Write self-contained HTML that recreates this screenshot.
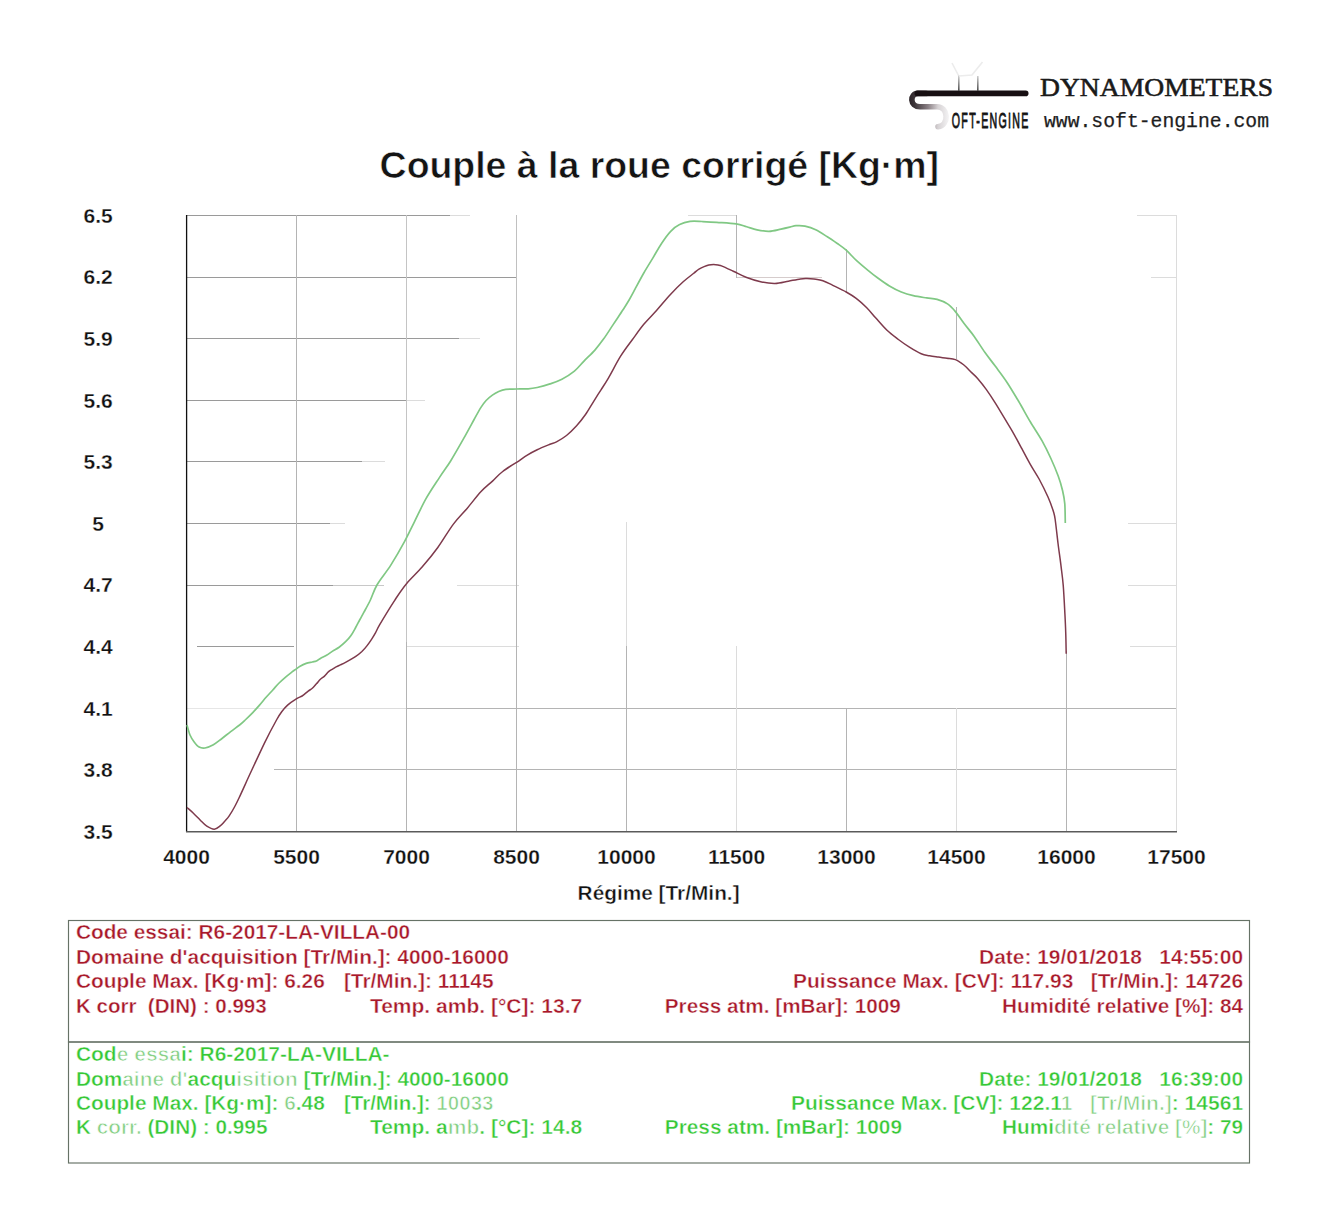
<!DOCTYPE html>
<html><head><meta charset="utf-8"><style>
html,body{margin:0;padding:0;background:#fff;width:1342px;height:1228px;overflow:hidden}
svg{display:block}
text{font-family:"Liberation Sans",sans-serif}
.b{font-weight:bold}
</style></head><body>
<svg width="1342" height="1228" viewBox="0 0 1342 1228">
<rect width="1342" height="1228" fill="#fff"/>
<!-- logo -->
<g id="logo">
  <defs>
    <linearGradient id="sg" gradientUnits="userSpaceOnUse" x1="908" y1="0" x2="948" y2="0">
      <stop offset="0" stop-color="#2a2226"/>
      <stop offset="0.15" stop-color="#3a3236"/>
      <stop offset="0.5" stop-color="#8a8085"/>
      <stop offset="0.75" stop-color="#d6d2d4"/>
      <stop offset="1" stop-color="#f2f1f2"/>
    </linearGradient>
    <linearGradient id="tg" gradientUnits="userSpaceOnUse" x1="0" y1="74" x2="0" y2="91">
      <stop offset="0" stop-color="#e0e0e0"/>
      <stop offset="1" stop-color="#4a4a4a"/>
    </linearGradient>
  </defs>
  <path d="M926,93.4 L918,93.4 C909.5,93.4 909.5,106.8 920,106.8 L937,106.8 C948.5,106.8 949.5,125 938,126.8" fill="none" stroke="url(#sg)" stroke-width="5.6" stroke-linecap="round"/>
  <rect x="914.5" y="90.6" width="114" height="5.6" rx="2.8" fill="#170f12"/>
  <path d="M958.8,75 L958.8,91 M977.8,76 L977.8,91" stroke="url(#tg)" stroke-width="1.6"/>
  <path d="M952,63 L958.5,75.5 M959,76 L972,75 L982.5,62" stroke="#ececec" stroke-width="1.6" fill="none"/>
  <text x="0" y="0" font-size="22.6" fill="#141414" stroke="#141414" stroke-width="0.9" transform="translate(951.8,127.9) scale(0.47,1)" textLength="163" lengthAdjust="spacing">OFT-ENGINE</text>
  <text x="1040" y="95.8" font-size="25.6" fill="#1a1a1a" stroke="#1a1a1a" stroke-width="0.55" style="font-family:'Liberation Serif',serif" textLength="233" lengthAdjust="spacingAndGlyphs">DYNAMOMETERS</text>
  <text x="1044" y="126.5" style="font-family:'Liberation Mono',monospace" font-size="19.6" fill="#1e1e1e" stroke="#1e1e1e" stroke-width="0.25" textLength="225" lengthAdjust="spacingAndGlyphs">www.soft-engine.com</text>
</g>
<!-- title -->
<text x="379.6" y="177.6" class="b" font-size="36" fill="#141414" stroke="#fff" stroke-width="0.6" textLength="559.5" lengthAdjust="spacingAndGlyphs">Couple à la roue corrigé [Kg·m]</text>
<!-- grid -->
<g stroke-width="1" fill="none">
<line x1="187" y1="215.5" x2="450" y2="215.5" stroke="#9a9a9a"/>
<line x1="450" y1="215.5" x2="470" y2="215.5" stroke="#dcdcdc"/>
<line x1="688" y1="215.5" x2="737" y2="215.5" stroke="#dcdcdc"/>
<line x1="1137" y1="215.5" x2="1176" y2="215.5" stroke="#dcdcdc"/>
<line x1="187" y1="277.5" x2="516" y2="277.5" stroke="#9a9a9a"/>
<line x1="736" y1="277.5" x2="822" y2="277.5" stroke="#d6cccc"/>
<line x1="1151" y1="277.5" x2="1176" y2="277.5" stroke="#dcdcdc"/>
<line x1="187" y1="338.5" x2="459" y2="338.5" stroke="#9a9a9a"/>
<line x1="459" y1="338.5" x2="480" y2="338.5" stroke="#dcdcdc"/>
<line x1="187" y1="400.5" x2="406" y2="400.5" stroke="#9a9a9a"/>
<line x1="406" y1="400.5" x2="425" y2="400.5" stroke="#dcdcdc"/>
<line x1="187" y1="461.5" x2="362" y2="461.5" stroke="#9a9a9a"/>
<line x1="362" y1="461.5" x2="385" y2="461.5" stroke="#dcdcdc"/>
<line x1="187" y1="523.5" x2="330" y2="523.5" stroke="#9a9a9a"/>
<line x1="330" y1="523.5" x2="345" y2="523.5" stroke="#dcdcdc"/>
<line x1="1128" y1="523.5" x2="1176" y2="523.5" stroke="#dcdcdc"/>
<line x1="187" y1="585.5" x2="333" y2="585.5" stroke="#9a9a9a"/>
<line x1="333" y1="585.5" x2="384" y2="585.5" stroke="#c8c8c8"/>
<line x1="457" y1="585.5" x2="519" y2="585.5" stroke="#dcdcdc"/>
<line x1="1128" y1="585.5" x2="1176" y2="585.5" stroke="#dcdcdc"/>
<line x1="197" y1="646.5" x2="294" y2="646.5" stroke="#9a9a9a"/>
<line x1="406" y1="646.5" x2="519" y2="646.5" stroke="#dcdcdc"/>
<line x1="1130" y1="646.5" x2="1176" y2="646.5" stroke="#dcdcdc"/>
<line x1="187" y1="708.5" x2="293" y2="708.5" stroke="#e6e6e6"/>
<line x1="293" y1="708.5" x2="406" y2="708.5" stroke="#dcdcdc"/>
<line x1="406" y1="708.5" x2="1176" y2="708.5" stroke="#b4b4b4"/>
<line x1="274" y1="769.5" x2="1176" y2="769.5" stroke="#b4b4b4"/>
<line x1="296.5" y1="215" x2="296.5" y2="831" stroke="#b4b4b4"/>
<line x1="406.5" y1="215" x2="406.5" y2="642" stroke="#c4c4c4"/>
<line x1="406.5" y1="642" x2="406.5" y2="831" stroke="#b4b4b4"/>
<line x1="516.5" y1="215" x2="516.5" y2="383" stroke="#c0c0c0"/>
<line x1="516.5" y1="383" x2="516.5" y2="831" stroke="#b4b4b4"/>
<line x1="626.5" y1="522" x2="626.5" y2="646" stroke="#dcdcdc"/>
<line x1="626.5" y1="646" x2="626.5" y2="831" stroke="#b4b4b4"/>
<line x1="736.5" y1="215" x2="736.5" y2="278" stroke="#b4b4b4"/>
<line x1="736.5" y1="646" x2="736.5" y2="831" stroke="#dcdcdc"/>
<line x1="846.5" y1="249" x2="846.5" y2="293" stroke="#b4b4b4"/>
<line x1="846.5" y1="708" x2="846.5" y2="831" stroke="#b4b4b4"/>
<line x1="956.5" y1="307" x2="956.5" y2="359" stroke="#b4b4b4"/>
<line x1="956.5" y1="708" x2="956.5" y2="831" stroke="#dcdcdc"/>
<line x1="1066.5" y1="651" x2="1066.5" y2="831" stroke="#b4b4b4"/>
<line x1="1176.5" y1="215" x2="1176.5" y2="831" stroke="#dcdcdc"/>
</g>
<!-- axes -->
<line x1="186.6" y1="215" x2="186.6" y2="832" stroke="#101010" stroke-width="1.3"/>
<line x1="186" y1="831.8" x2="1177" y2="831.8" stroke="#5a5a5a" stroke-width="1.6"/>
<!-- curves -->
<path d="M187.0,725.0 C187.5,726.7 188.8,732.2 190.0,735.0 C191.2,737.8 192.5,739.7 194.0,741.7 C195.5,743.7 197.3,746.1 199.1,747.1 C200.9,748.1 202.6,748.4 205.0,748.0 C207.4,747.6 210.6,746.2 213.4,744.7 C216.2,743.2 218.8,740.9 221.7,738.7 C224.6,736.5 227.7,733.9 230.7,731.6 C233.7,729.3 237.2,726.9 239.6,725.0 C242.0,723.1 243.0,722.1 245.2,720.0 C247.4,717.9 250.6,714.8 253.0,712.3 C255.4,709.8 257.3,707.6 259.5,705.1 C261.7,702.6 263.9,699.8 266.1,697.3 C268.3,694.8 270.4,692.6 272.6,690.2 C274.8,687.8 276.9,685.2 279.1,683.0 C281.3,680.8 283.4,679.0 285.6,677.1 C287.8,675.2 290.3,673.3 292.1,671.9 C293.9,670.5 295.1,669.8 296.4,668.8 C297.7,667.8 298.5,667.1 300.1,666.2 C301.7,665.3 304.2,664.1 306.2,663.4 C308.2,662.7 310.6,662.4 312.3,662.0 C314.0,661.6 315.0,661.6 316.4,661.0 C317.8,660.4 318.7,659.4 320.4,658.4 C322.1,657.4 324.5,656.5 326.5,655.3 C328.5,654.1 330.5,652.5 332.6,651.1 C334.7,649.8 336.9,648.8 339.1,647.2 C341.3,645.6 343.7,643.6 345.6,641.7 C347.6,639.8 349.2,638.1 350.8,635.8 C352.4,633.5 353.9,630.7 355.4,628.0 C356.9,625.3 358.5,622.1 359.9,619.5 C361.3,616.9 362.1,615.6 363.8,612.4 C365.6,609.1 368.2,604.6 370.4,600.0 C372.6,595.4 373.7,590.5 377.1,584.7 C380.5,578.9 386.2,572.3 390.8,565.1 C395.4,557.9 400.6,548.9 404.5,541.7 C408.4,534.5 410.7,529.3 414.3,522.1 C417.9,514.9 421.8,506.2 426.0,498.7 C430.2,491.2 435.6,483.4 439.7,477.1 C443.8,470.8 446.9,467.0 450.8,460.7 C454.7,454.4 459.4,446.1 463.3,439.2 C467.2,432.3 471.2,424.8 474.1,419.5 C477.0,414.2 478.8,410.8 480.8,407.6 C482.8,404.4 484.2,402.6 486.1,400.5 C488.0,398.4 490.3,396.6 492.4,395.1 C494.5,393.6 496.5,392.5 498.7,391.5 C500.9,390.5 502.8,389.7 505.8,389.3 C508.8,388.9 512.9,389.1 516.6,389.0 C520.3,388.9 524.8,389.1 528.2,388.8 C531.6,388.6 533.6,388.3 537.2,387.5 C540.8,386.7 545.9,385.3 550.0,383.9 C554.1,382.5 557.8,381.3 561.9,379.2 C566.0,377.1 570.7,374.1 574.4,371.1 C578.1,368.1 580.6,364.6 584.0,361.1 C587.4,357.6 591.6,353.8 594.9,350.1 C598.1,346.4 600.4,343.4 603.5,339.1 C606.6,334.8 610.0,329.3 613.3,324.4 C616.5,319.5 620.4,313.9 623.0,309.8 C625.6,305.7 627.1,303.4 629.1,300.0 C631.1,296.6 632.5,293.9 634.9,289.4 C637.3,284.9 640.8,278.2 643.8,273.0 C646.8,267.8 649.8,263.1 652.8,258.1 C655.8,253.1 658.7,247.7 661.7,243.2 C664.7,238.7 667.7,234.4 670.7,231.3 C673.7,228.2 676.4,226.2 679.6,224.6 C682.8,222.9 686.3,221.9 690.0,221.4 C693.7,220.9 697.5,221.3 702.0,221.5 C706.5,221.7 711.2,221.9 716.9,222.3 C722.6,222.7 731.2,223.1 736.2,223.8 C741.2,224.6 743.2,225.8 746.7,226.8 C750.2,227.8 753.4,229.1 757.1,229.8 C760.8,230.6 765.0,231.4 769.0,231.3 C773.0,231.2 777.5,229.8 781.0,229.1 C784.5,228.4 787.4,227.7 789.9,227.1 C792.4,226.5 793.5,225.9 796.0,225.7 C798.5,225.5 801.7,225.4 805.0,226.1 C808.3,226.8 812.0,227.9 815.7,229.7 C819.4,231.5 823.7,234.5 827.3,236.8 C830.9,239.1 834.1,241.3 837.3,243.5 C840.4,245.7 843.0,247.3 846.2,250.2 C849.4,253.1 853.1,257.5 856.6,260.7 C860.1,263.9 863.6,266.8 867.1,269.6 C870.6,272.5 873.8,275.1 877.5,277.8 C881.2,280.5 885.4,283.6 889.4,286.0 C893.4,288.4 897.3,290.4 901.3,292.0 C905.3,293.6 909.1,294.7 913.3,295.7 C917.5,296.7 922.7,297.3 926.7,297.9 C930.7,298.5 933.6,298.4 937.1,299.4 C940.6,300.4 944.5,301.9 947.5,303.9 C950.5,305.9 952.7,308.4 955.4,311.6 C958.1,314.8 960.7,319.1 963.9,323.3 C967.1,327.5 970.9,331.8 974.4,336.7 C977.9,341.6 981.5,347.6 985.0,352.5 C988.5,357.4 991.6,361.2 995.2,366.1 C998.9,371.1 1003.0,376.3 1006.9,382.2 C1010.8,388.1 1014.7,394.7 1018.6,401.3 C1022.5,407.9 1026.4,415.2 1030.3,421.8 C1034.2,428.4 1038.7,434.8 1042.1,440.9 C1045.5,447.0 1048.2,452.6 1050.9,458.5 C1053.6,464.4 1056.2,470.6 1058.2,476.0 C1060.2,481.4 1061.5,486.1 1062.6,490.7 C1063.7,495.3 1064.3,498.5 1064.8,503.9 C1065.2,509.3 1065.2,519.8 1065.3,523.0" fill="none" stroke="#80c884" stroke-width="1.7" stroke-linejoin="round"/>
<path d="M187.0,807.5 C188.1,808.5 191.2,811.1 193.4,813.2 C195.6,815.3 197.9,817.8 200.1,820.0 C202.3,822.2 204.4,824.7 206.8,826.2 C209.2,827.7 212.1,829.3 214.3,829.2 C216.5,829.1 218.5,827.1 220.2,825.8 C221.9,824.5 223.2,822.9 224.7,821.3 C226.2,819.6 227.6,818.3 229.2,815.9 C230.8,813.5 232.9,810.0 234.5,807.0 C236.1,804.0 236.1,804.1 239.0,798.0 C241.9,791.9 247.4,779.5 251.7,770.3 C256.0,761.1 260.6,751.0 264.7,742.6 C268.8,734.2 273.7,725.1 276.5,720.0 C279.3,714.9 279.8,714.2 281.7,711.7 C283.6,709.2 285.1,707.3 287.6,705.1 C290.1,702.9 294.3,700.1 296.7,698.6 C299.1,697.1 300.2,697.2 302.1,696.0 C304.0,694.8 306.5,692.4 308.2,691.1 C309.9,689.8 310.9,689.5 312.3,688.3 C313.7,687.1 315.0,685.3 316.4,683.8 C317.8,682.3 319.0,680.6 320.4,679.3 C321.8,678.0 323.1,677.4 324.5,676.1 C325.9,674.8 327.2,672.8 328.6,671.6 C330.0,670.4 331.2,669.9 332.6,669.1 C334.0,668.3 335.3,667.4 336.7,666.7 C338.1,666.0 339.2,665.5 340.8,664.7 C342.4,664.0 343.6,663.5 346.0,662.2 C348.4,660.9 352.8,658.5 355.4,656.7 C358.0,654.9 359.9,653.4 361.9,651.5 C363.8,649.6 365.5,647.7 367.1,645.6 C368.7,643.5 370.3,641.3 371.7,639.1 C373.1,636.9 374.2,635.1 375.6,632.6 C377.0,630.1 376.8,629.5 380.0,624.1 C383.2,618.7 390.3,607.0 394.7,600.3 C399.1,593.6 401.9,589.2 406.5,583.7 C411.1,578.2 416.9,573.1 422.1,567.1 C427.3,561.1 432.6,554.7 437.8,547.5 C443.0,540.3 448.5,530.6 453.4,524.1 C458.3,517.6 462.5,513.8 467.1,508.4 C471.7,503.0 476.6,496.4 480.8,491.8 C485.0,487.2 488.9,484.5 492.5,481.1 C496.1,477.7 498.7,474.6 502.7,471.5 C506.7,468.4 512.5,465.0 516.6,462.3 C520.7,459.6 523.9,457.2 527.3,455.1 C530.7,453.0 533.4,451.5 537.2,449.7 C541.0,447.9 546.8,445.6 550.0,444.3 C553.2,443.0 553.8,443.4 556.5,441.9 C559.2,440.4 563.1,438.2 566.5,435.5 C569.9,432.8 573.4,429.3 576.6,425.8 C579.8,422.3 582.6,418.6 585.5,414.5 C588.4,410.4 591.1,405.4 593.7,401.3 C596.3,397.2 598.5,393.7 601.0,389.8 C603.5,385.9 605.1,383.7 608.4,378.1 C611.7,372.5 616.6,362.6 620.6,356.2 C624.6,349.8 628.2,345.3 632.1,340.0 C636.0,334.7 639.7,329.2 643.8,324.3 C647.9,319.4 652.1,315.4 656.5,310.5 C660.9,305.6 665.8,299.4 670.2,294.7 C674.6,289.9 679.0,285.5 682.9,282.0 C686.8,278.5 690.8,275.6 693.5,273.5 C696.2,271.4 697.2,270.3 699.0,269.2 C700.8,268.1 702.5,267.3 704.1,266.6 C705.7,265.9 707.2,265.4 708.8,265.0 C710.4,264.6 712.1,264.5 713.6,264.5 C715.1,264.5 716.6,264.7 718.0,265.0 C719.4,265.3 719.6,265.1 722.1,266.1 C724.6,267.1 729.2,269.3 733.3,271.2 C737.4,273.1 742.0,275.7 746.7,277.5 C751.4,279.3 756.9,281.0 761.6,282.0 C766.3,283.0 770.5,283.6 775.0,283.5 C779.5,283.4 784.1,282.0 788.4,281.2 C792.6,280.4 797.4,279.3 800.5,278.9 C803.6,278.5 804.8,278.6 807.0,278.6 C809.2,278.6 811.2,278.6 813.9,279.0 C816.5,279.4 819.8,279.6 822.9,280.7 C826.0,281.8 828.9,283.4 832.8,285.3 C836.7,287.2 842.3,289.8 846.2,292.0 C850.1,294.2 852.8,295.8 856.2,298.4 C859.6,301.0 863.3,304.3 866.5,307.5 C869.7,310.7 872.2,314.0 875.6,317.8 C879.0,321.6 883.2,326.7 887.0,330.3 C890.8,333.9 894.6,336.6 898.4,339.5 C902.2,342.4 906.0,345.0 909.8,347.4 C913.6,349.8 917.9,352.3 921.2,353.7 C924.5,355.1 926.6,355.2 929.5,355.8 C932.4,356.4 935.4,356.7 938.3,357.1 C941.2,357.5 944.1,357.8 947.0,358.2 C949.9,358.6 952.6,358.5 955.4,359.6 C958.2,360.7 961.2,362.9 963.9,365.0 C966.6,367.1 969.1,370.1 971.4,372.4 C973.7,374.6 975.1,375.6 977.6,378.5 C980.1,381.4 983.5,385.6 986.4,389.6 C989.3,393.7 992.3,398.2 995.2,402.8 C998.1,407.4 1001.1,412.5 1004.0,417.4 C1006.9,422.3 1009.9,427.0 1012.8,432.1 C1015.7,437.2 1018.7,442.8 1021.6,448.2 C1024.5,453.6 1027.4,459.2 1030.3,464.3 C1033.2,469.4 1036.1,473.6 1039.1,479.0 C1042.0,484.4 1045.5,491.4 1048.0,497.0 C1050.5,502.6 1052.5,508.5 1053.8,512.7 C1055.0,516.9 1054.8,516.8 1055.5,522.0 C1056.2,527.2 1057.2,536.7 1058.1,544.0 C1059.0,551.3 1060.2,559.1 1061.0,565.9 C1061.8,572.7 1062.6,577.7 1063.2,585.0 C1063.8,592.3 1064.3,602.1 1064.7,609.9 C1065.1,617.7 1065.5,624.6 1065.7,631.9 C1066.0,639.2 1066.1,650.1 1066.2,653.8" fill="none" stroke="#7e3a4c" stroke-width="1.5" stroke-linejoin="round"/>
<!-- labels -->
<g class="b" font-size="21" fill="#111" stroke="#fff" stroke-width="0.3" text-anchor="middle">
<text x="98.2" y="838.8">3.5</text><text x="98.2" y="777.2">3.8</text><text x="98.2" y="715.6">4.1</text><text x="98.2" y="654.0">4.4</text><text x="98.2" y="592.4">4.7</text><text x="98.2" y="530.8">5</text><text x="98.2" y="469.2">5.3</text><text x="98.2" y="407.6">5.6</text><text x="98.2" y="346.0">5.9</text><text x="98.2" y="284.4">6.2</text><text x="98.2" y="222.8">6.5</text>
<text x="186.5" y="863.8">4000</text><text x="296.5" y="863.8">5500</text><text x="406.5" y="863.8">7000</text><text x="516.5" y="863.8">8500</text><text x="626.5" y="863.8">10000</text><text x="736.5" y="863.8">11500</text><text x="846.5" y="863.8">13000</text><text x="956.5" y="863.8">14500</text><text x="1066.5" y="863.8">16000</text><text x="1176.5" y="863.8">17500</text>
</g>
<text x="577.6" y="899.8" class="b" font-size="20.3" fill="#111" stroke="#fff" stroke-width="0.4" textLength="162" lengthAdjust="spacingAndGlyphs">Régime [Tr/Min.]</text>
<!-- info boxes -->
<g fill="none" stroke="#667266" stroke-width="1.15">
<rect x="68.5" y="920.5" width="1181" height="121.5"/>
<rect x="68.5" y="1042" width="1181" height="121"/>
</g>
<g class="b" font-size="20" fill="#a8182a" stroke="#fff" stroke-width="0.40"><text x="75.9" y="939.3" textLength="334.3" lengthAdjust="spacingAndGlyphs" xml:space="preserve">Code essai: R6-2017-LA-VILLA-00</text><text x="75.9" y="963.7" textLength="432.9" lengthAdjust="spacingAndGlyphs" xml:space="preserve">Domaine d'acquisition [Tr/Min.]: 4000-16000</text><text x="979.1" y="963.7" textLength="264.0" lengthAdjust="spacingAndGlyphs" xml:space="preserve">Date: 19/01/2018   14:55:00</text><text x="75.9" y="988.1" textLength="248.9" lengthAdjust="spacingAndGlyphs" xml:space="preserve">Couple Max. [Kg·m]: 6.26</text><text x="343.9" y="988.1" textLength="149.6" lengthAdjust="spacingAndGlyphs" xml:space="preserve">[Tr/Min.]: 11145</text><text x="793.1" y="988.1" textLength="450.0" lengthAdjust="spacingAndGlyphs" xml:space="preserve">Puissance Max. [CV]: 117.93   [Tr/Min.]: 14726</text><text x="75.9" y="1012.5" textLength="190.8" lengthAdjust="spacingAndGlyphs" xml:space="preserve">K corr  (DIN) : 0.993</text><text x="369.9" y="1012.5" textLength="212.3" lengthAdjust="spacingAndGlyphs" xml:space="preserve">Temp. amb. [°C]: 13.7</text><text x="664.8" y="1012.5" textLength="235.9" lengthAdjust="spacingAndGlyphs" xml:space="preserve">Press atm. [mBar]: 1009</text><text x="1002.0" y="1012.5" textLength="241.1" lengthAdjust="spacingAndGlyphs" xml:space="preserve">Humidité relative [%]: 84</text></g><g class="b" font-size="20" fill="#36c836" stroke="#fff" stroke-width="0.45"><text x="75.9" y="1061.2" textLength="313.7" lengthAdjust="spacingAndGlyphs" xml:space="preserve">Cod<tspan fill="#86d086" stroke-width="0.75">e essa</tspan>i: R6-2017-LA-VILLA-</text><text x="75.9" y="1085.6" textLength="432.9" lengthAdjust="spacingAndGlyphs" xml:space="preserve">Dom<tspan fill="#86d086" stroke-width="0.75">aine d'</tspan>acqu<tspan fill="#86d086" stroke-width="0.75">isition</tspan> [Tr/Min.]: 4000-16000</text><text x="979.1" y="1085.6" textLength="264.0" lengthAdjust="spacingAndGlyphs" xml:space="preserve">Date: 19/01/2018   16:39:00</text><text x="75.9" y="1110.0" textLength="248.9" lengthAdjust="spacingAndGlyphs" xml:space="preserve">Couple Max. [Kg·m]: <tspan fill="#86d086" stroke-width="0.75">6</tspan>.48</text><text x="343.9" y="1110.0" textLength="149.6" lengthAdjust="spacingAndGlyphs" xml:space="preserve">[Tr/Min.]: <tspan fill="#86d086" stroke-width="0.75">10033</tspan></text><text x="790.9" y="1110.0" textLength="452.2" lengthAdjust="spacingAndGlyphs" xml:space="preserve">Puissance Max. [CV]: 122.1<tspan fill="#86d086" stroke-width="0.75">1   [Tr/Min.]</tspan>: 14561</text><text x="75.9" y="1134.4" textLength="191.6" lengthAdjust="spacingAndGlyphs" xml:space="preserve">K<tspan fill="#86d086" stroke-width="0.75"> corr.</tspan> (DIN) : 0.995</text><text x="369.9" y="1134.4" textLength="212.3" lengthAdjust="spacingAndGlyphs" xml:space="preserve">Temp. a<tspan fill="#86d086" stroke-width="0.75">mb</tspan>. [°C]: 14.8</text><text x="664.8" y="1134.4" textLength="237.2" lengthAdjust="spacingAndGlyphs" xml:space="preserve">Press atm. [mBar]: 1009</text><text x="1002.0" y="1134.4" textLength="241.1" lengthAdjust="spacingAndGlyphs" xml:space="preserve">Humi<tspan fill="#86d086" stroke-width="0.75">dité relative [%]</tspan>: 79</text></g>
</svg>
</body></html>
